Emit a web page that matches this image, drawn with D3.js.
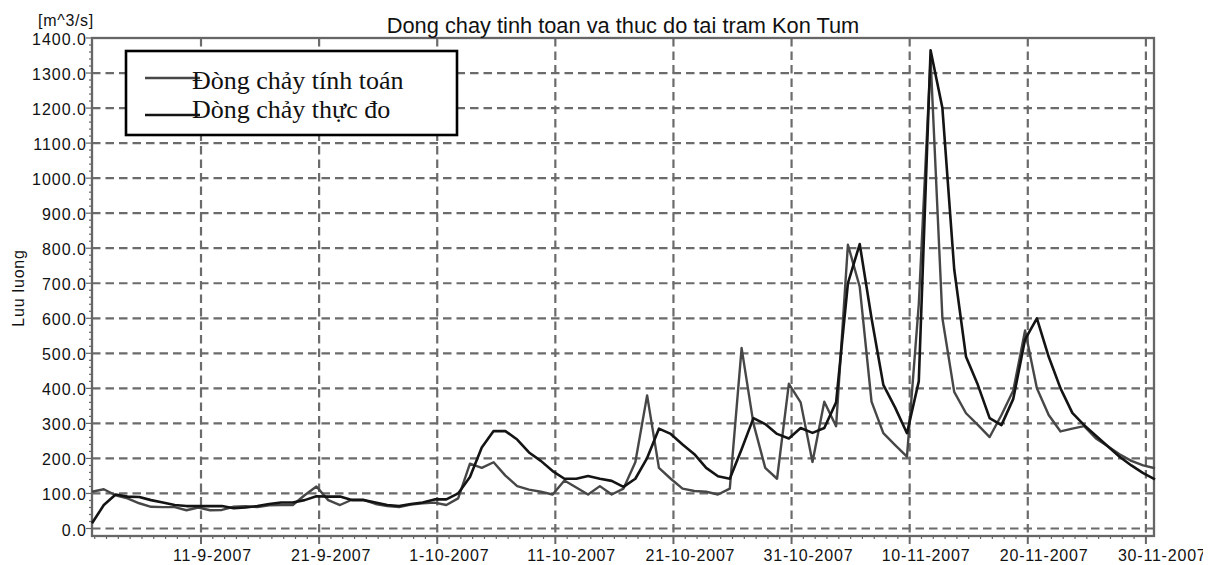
<!DOCTYPE html>
<html>
<head>
<meta charset="utf-8">
<script src="https://cdn.jsdelivr.net/npm/d3@7"></script>
<style>
  html, body { margin: 0; padding: 0; background: #fff; }
  svg { display: block; }
  text { fill: #111; }
</style>
</head>
<body>
<svg id="chart" width="1211" height="565"></svg>
<script>
// Daily discharge at Kon Tum station, 91 days starting early September 2007
const startTime = Date.UTC(2007, 8, 1, 18, 30);
const computedFlow = [105,112,95,86,72,62,61,61,52,60,
  52,53,62,64,61,66,67,67,95,120,
  81,67,82,82,70,64,61,68,72,74,
  67,86,185,173,189,151,121,111,105,97,
  137,117,97,121,97,114,189,380,173,142,
  114,107,105,97,114,515,300,173,142,413,
  360,190,362,292,810,690,362,272,238,205,
  640,1340,600,390,329,296,261,324,394,565,
  400,324,277,285,292,257,235,212,193,180,
  172];
const observedFlow = [15,67,97,91,90,81,74,67,64,64,
  64,64,58,60,64,70,74,74,81,92,
  91,91,81,81,74,67,64,70,74,83,
  83,100,147,231,278,278,254,217,193,164,
  142,142,150,142,136,119,142,201,285,270,
  240,212,173,149,142,226,315,298,270,257,
  287,273,287,360,700,812,600,410,345,272,
  420,1365,1200,740,490,410,315,295,370,540,
  600,490,400,330,295,265,235,205,180,158,
  140];
const xTickDates = ["2007-09-11","2007-09-21","2007-10-01","2007-10-11","2007-10-21",
  "2007-10-31","2007-11-10","2007-11-20","2007-11-30"];
const yTicks = [0,100,200,300,400,500,600,700,800,900,1000,1100,1200,1300,1400];
const seriesNames = ["Đòng chảy tính toán", "Dòng chảy thực đo"];
const titleText = "Dong chay tinh toan va thuc do tai tram Kon Tum";
const unitText = "[m^3/s]";
const yAxisTitle = "Luu luong";

const dates = computedFlow.map((_, i) => d3.utcDay.offset(new Date(startTime), i));

const L = 92, R = 1154, T = 38, B = 536;
const SANS = "'Liberation Sans', Arial, sans-serif";
const SERIF = "'Liberation Serif', 'Times New Roman', serif";
const svg = d3.select("#chart");

const x = d3.scaleUtc().domain([dates[0], dates[dates.length - 1]]).range([L, R + 1]);
const y = d3.scaleLinear().domain([0, 1400]).range([528.5, T]);

const gridColor = "#6b6b6b";
const fmtTick = d3.utcFormat("%-d-%-m-%Y");
const tickDates = xTickDates.map(s => new Date(s + "T00:00:00Z"));

// horizontal grid
svg.append("g").selectAll("line").data(yTicks.filter(v => v < 1400)).join("line")
  .attr("x1", L).attr("x2", R)
  .attr("y1", d => y(d)).attr("y2", d => y(d))
  .attr("stroke", gridColor).attr("stroke-width", 2.2)
  .attr("stroke-dasharray", "8.5,5");

// vertical grid
svg.append("g").selectAll("line").data(tickDates).join("line")
  .attr("x1", d => x(d)).attr("x2", d => x(d))
  .attr("y1", T).attr("y2", B)
  .attr("stroke", gridColor).attr("stroke-width", 2.2)
  .attr("stroke-dasharray", "8.5,5");

// minor ticks: every 20 units on the left, every day at the bottom
const minorY = d3.range(0, 1401, 20);
svg.append("g").selectAll("line").data(minorY).join("line")
  .attr("x1", d => d % 100 === 0 ? L - 6 : L - 3).attr("x2", L)
  .attr("y1", d => y(d)).attr("y2", d => y(d))
  .attr("stroke", "#666").attr("stroke-width", 1.2);
const minorX = d3.utcDay.range(d3.utcDay.ceil(x.domain()[0]), x.domain()[1]);
svg.append("g").selectAll("line").data(minorX).join("line")
  .attr("x1", d => x(d)).attr("x2", d => x(d))
  .attr("y1", B).attr("y2", B + 3)
  .attr("stroke", "#666").attr("stroke-width", 1.2);
svg.append("g").selectAll("line").data(tickDates).join("line")
  .attr("x1", d => x(d)).attr("x2", d => x(d))
  .attr("y1", B).attr("y2", B + 8)
  .attr("stroke", "#666").attr("stroke-width", 2);

// frame
svg.append("rect").attr("x", L).attr("y", T).attr("width", R - L).attr("height", B - T)
  .attr("fill", "none").attr("stroke", "#666").attr("stroke-width", 2.3);

// y tick labels
svg.append("g").selectAll("text").data(yTicks).join("text")
  .attr("x", 87).attr("y", d => y(d) + 7)
  .attr("text-anchor", "end")
  .style("font-family", SANS).style("font-size", "16px").style("letter-spacing", "1px")
  .text(d => d3.format(".1f")(d));

// x tick labels (clipped at the right edge of the picture)
svg.append("clipPath").attr("id", "labelClip")
  .append("rect").attr("x", 0).attr("y", 0).attr("width", 1203).attr("height", 565);
svg.append("g").attr("clip-path", "url(#labelClip)")
  .selectAll("text").data(tickDates).join("text")
  .attr("x", d => x(d) - 28).attr("y", 561)
  .style("font-family", SANS).style("font-size", "16px").style("letter-spacing", "0.8px")
  .text(d => fmtTick(d));

// series lines
const line = d3.line().x((d, i) => x(dates[i])).y(d => y(d));
svg.append("path").datum(computedFlow).attr("d", line)
  .attr("fill", "none").attr("stroke", "#474747").attr("stroke-width", 2.4)
  .attr("stroke-linejoin", "round");
svg.append("path").datum(observedFlow).attr("d", line)
  .attr("fill", "none").attr("stroke", "#141414").attr("stroke-width", 2.6)
  .attr("stroke-linejoin", "round");

// title and axis captions
svg.append("text").attr("x", (L + R) / 2).attr("y", 33)
  .attr("text-anchor", "middle")
  .style("font-family", SANS).style("font-size", "21.8px")
  .text(titleText);
svg.append("text").attr("x", 38).attr("y", 26)
  .style("font-family", SANS).style("font-size", "16px").style("letter-spacing", "0.7px")
  .text(unitText);
svg.append("text").attr("transform", "translate(24,288) rotate(-90)")
  .attr("text-anchor", "middle")
  .style("font-family", SANS).style("font-size", "16px").style("letter-spacing", "0.8px")
  .text(yAxisTitle);

// legend
const lg = svg.append("g");
lg.append("rect").attr("x", 126).attr("y", 51).attr("width", 331).attr("height", 84)
  .attr("fill", "#fff").attr("stroke", "#000").attr("stroke-width", 2.6);
const legendColors = ["#474747", "#141414"];
const legendLineY = [78, 115];
const legendTextY = [89, 118];
seriesNames.forEach((name, k) => {
  lg.append("line").attr("x1", 145).attr("x2", 200)
    .attr("y1", legendLineY[k]).attr("y2", legendLineY[k])
    .attr("stroke", legendColors[k]).attr("stroke-width", 2.4);
  lg.append("text").attr("x", 192).attr("y", legendTextY[k])
    .style("font-family", SERIF).style("font-size", "26px")
    .text(name);
});
</script>
</body>
</html>
